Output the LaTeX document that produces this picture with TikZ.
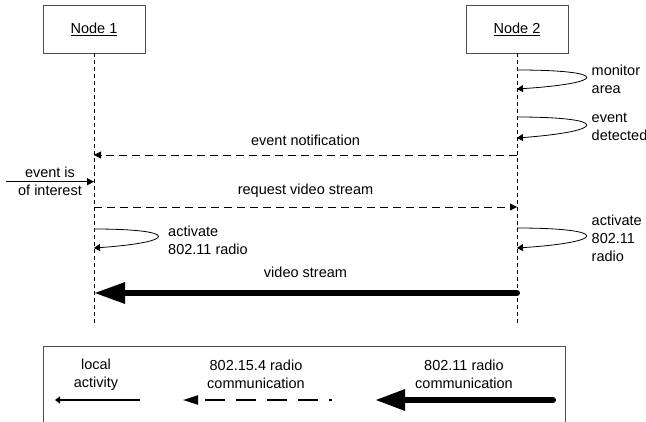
\documentclass[tikz,border=0pt]{standalone}
\usepackage{fontspec}
\setmainfont{Liberation Sans}
\usepackage{tikz}
\usetikzlibrary{arrows.meta}
\newcommand{\framecolor}{black!70}

\begin{document}
\begin{tikzpicture}[x=10pt, y=-10pt, line width=0.8pt,
	font=\fontsize{14.5}{18}\selectfont,
	actor/.style={draw=\framecolor, minimum width=102pt, minimum height=48pt},
	lifeline/.style={dash pattern=on 4pt off 3pt},
	msg/.style={dash pattern=on 8pt off 5pt, -{Triangle[length=7pt,width=7pt]}},
	selfloop/.style={-{Triangle[length=6pt,width=7pt]}},
	stream/.style={line width=6pt, line cap=round, -{Triangle[length=31pt,width=20pt]}}]
	\useasboundingbox (0,0) rectangle (64.6,42.1);

	% the two nodes and their lifelines
	\node[actor] (n1) at (9.4,2.9) {\underline{Node 1}};
	\node[actor] (n2) at (51.7,2.9) {\underline{Node 2}};
	\coordinate (end1) at (n1 |- 0,32.5);
	\coordinate (end2) at (n2 |- 0,32.5);
	\draw[lifeline] (n1) -- (end1);
	\draw[lifeline] (n2) -- (end2);

	% node 2 watches
	\draw[selfloop] (n2 |- 0,7.0) .. controls (60.9,7.0) and (60.9,8.3)
		.. (n2 |- 0,8.9);
	\node[anchor=west, align=left] (monitor) at (58.8,7.9) {monitor\\area};
	\draw[selfloop] (n2 |- 0,11.7) .. controls (60.9,11.7) and (60.9,13.1)
		.. (n2 |- 0,13.8);
	\node[anchor=west, align=left] (detected) at (58.8,12.7) {event\\detected};

	\draw[msg] (n2 |- 0,15.5) -- node[above=5.6pt]{event notification}
		(n1 |- 0,15.5);

	\coordinate (outside) at (0.6,18.17);
	\draw[-{Triangle[length=7pt,width=7pt]}] (outside) -- 
		node[align=center] (interest) {event is\\of interest} (n1 |- 0,18.17);

	\draw[msg] (n1 |- 0,20.7) -- node[above=5.6pt]{request video stream}
		(n2 |- 0,20.7);

	% both switch on the 802.11 radio
	\draw[selfloop] (n1 |- 0,22.9) .. controls (17.9,22.9) and (17.9,24.2)
		.. (n1 |- 0,24.8);
	\node[anchor=west, align=left] (act1) at (16.45,24.0) {activate\\802.11 radio};
	\draw[selfloop] (n2 |- 0,22.8) .. controls (60.9,22.8) and (60.9,24.2)
		.. (n2 |- 0,24.8);
	\node[anchor=west, align=left] (act2) at (58.8,23.8) {activate\\802.11\\radio};

	\draw[stream] (n2 |- 0,29.3) -- node[above=8.7pt]{video stream}
		(n1 |- 0,29.3);

	% legend
	\draw[draw=\framecolor] (4.3,34.6) rectangle (56.5,43);
	\node[align=center] (local) at (9.6,37.5) {local\\activity};
	\draw[line width=1.3pt, -{Triangle[length=5pt,width=7pt]}] (14,40) -- (5.5,40);
	\node[align=center] (wpan) at (25.6,37.4) {802.15.4 radio\\communication};
	\draw[line width=1.8pt, dash pattern=on 20pt off 11pt, dash phase=17pt,
		-{Triangle[length=15pt,width=9pt]}] (33.2,40) -- (18.3,40);
	\node[align=center] (wlan) at (46.4,37.4) {802.11 radio\\communication};
	\draw[line width=6pt, line cap=round, -{Triangle[length=30pt,width=20pt]}]
		(55.3,40) -- (37.5,40);
\end{tikzpicture}
\end{document}
